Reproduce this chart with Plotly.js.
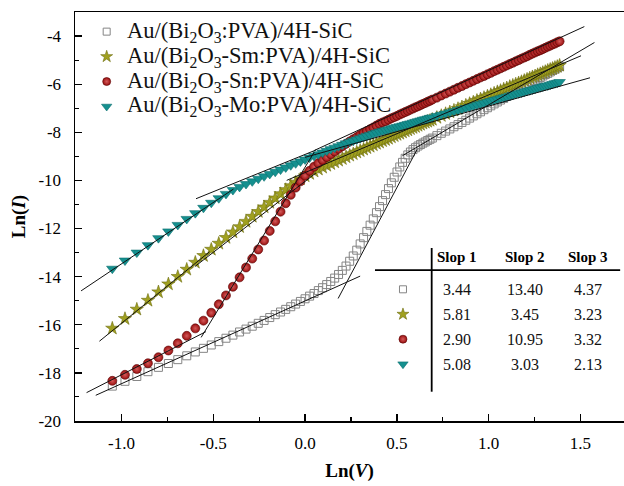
<!DOCTYPE html>
<html><head><meta charset="utf-8">
<script src="https://cdn.plot.ly/plotly-3.0.1.min.js"></script>
<style>html,body{margin:0;padding:0;background:#fff}#chart{width:624px;height:486px}</style>
</head><body><div id="chart"></div>
<script>
// ln(V) values shared by all series
const lnV = [
-1.0498,-0.9808,-0.9163,-0.8557,-0.7985,-0.7444,-0.6931,-0.6444,-0.5978,-0.5534,
-0.5108,-0.4700,-0.4308,-0.3930,-0.3567,-0.3216,-0.2877,-0.2549,-0.2231,-0.1924,
-0.1625,-0.1335,-0.1054,-0.0780,-0.0513,-0.0253,0.0000,0.0247,0.0488,0.0723,
0.0953,0.1178,0.1398,0.1613,0.1823,0.2029,0.2231,0.2429,0.2624,0.2814,
0.3001,0.3185,0.3365,0.3542,0.3716,0.3887,0.4055,0.4220,0.4383,0.4543,
0.4700,0.4855,0.5008,0.5158,0.5306,0.5452,0.5596,0.5738,0.5878,0.6016,
0.6152,0.6286,0.6419,0.6549,0.6678,0.6806,0.6931,0.7178,0.7419,0.7655,
0.7885,0.8109,0.8329,0.8544,0.8755,0.8961,0.9163,0.9361,0.9555,0.9746,
0.9933,1.0116,1.0296,1.0473,1.0647,1.0818,1.0986,1.1151,1.1314,1.1474,
1.1632,1.1787,1.1939,1.2090,1.2238,1.2384,1.2528,1.2669,1.2809,1.2947,
1.3083,1.3218,1.3350,1.3481,1.3610,1.3737,1.3863];

const lnI_PVA = [
-18.55,-18.35,-18.15,-17.95,-17.77,-17.61,-17.45,-17.29,-17.13,-16.98,
-16.84,-16.70,-16.56,-16.43,-16.30,-16.18,-16.06,-15.94,-15.82,-15.70,
-15.58,-15.47,-15.36,-15.25,-15.14,-15.03,-14.92,-14.81,-14.70,-14.58,
-14.46,-14.33,-14.20,-14.06,-13.91,-13.74,-13.56,-13.36,-13.14,-12.90,
-12.64,-12.38,-12.12,-11.86,-11.60,-11.34,-11.09,-10.84,-10.59,-10.34,
-10.10,-9.87,-9.65,-9.44,-9.25,-9.08,-8.94,-8.82,-8.72,-8.64,
-8.57,-8.51,-8.45,-8.40,-8.34,-8.29,-8.24,-8.14,-8.04,-7.95,
-7.86,-7.77,-7.68,-7.59,-7.50,-7.41,-7.32,-7.23,-7.15,-7.06,
-6.98,-6.90,-6.82,-6.74,-6.66,-6.59,-6.51,-6.44,-6.37,-6.30,
-6.23,-6.16,-6.10,-6.03,-5.97,-5.90,-5.84,-5.78,-5.72,-5.66,
-5.60,-5.55,-5.49,-5.43,-5.38,-5.32,-5.27];

const lnI_Sm = [
-16.15,-15.75,-15.36,-14.99,-14.64,-14.31,-14.00,-13.70,-13.41,-13.13,
-12.87,-12.62,-12.38,-12.15,-11.93,-11.71,-11.50,-11.30,-11.11,-10.92,
-10.74,-10.56,-10.39,-10.23,-10.08,-9.94,-9.82,-9.72,-9.62,-9.54,
-9.46,-9.38,-9.31,-9.24,-9.17,-9.10,-9.03,-8.96,-8.90,-8.83,
-8.77,-8.71,-8.65,-8.59,-8.53,-8.47,-8.42,-8.36,-8.31,-8.26,
-8.20,-8.15,-8.10,-8.05,-8.00,-7.95,-7.91,-7.86,-7.81,-7.77,
-7.72,-7.68,-7.63,-7.59,-7.55,-7.51,-7.47,-7.39,-7.31,-7.23,
-7.16,-7.09,-7.02,-6.95,-6.88,-6.81,-6.75,-6.68,-6.62,-6.56,
-6.50,-6.44,-6.38,-6.32,-6.27,-6.21,-6.16,-6.10,-6.05,-6.00,
-5.95,-5.90,-5.85,-5.80,-5.75,-5.70,-5.66,-5.61,-5.57,-5.52,
-5.48,-5.43,-5.39,-5.35,-5.31,-5.27,-5.22];

const lnI_Sn = [
-18.33,-18.08,-17.84,-17.60,-17.35,-17.07,-16.77,-16.46,-16.15,-15.83,
-15.50,-15.15,-14.78,-14.42,-14.03,-13.62,-13.25,-12.87,-12.50,-12.10,
-11.70,-11.30,-10.95,-10.60,-10.30,-10.04,-9.80,-9.60,-9.43,-9.28,
-9.15,-9.03,-8.91,-8.80,-8.69,-8.58,-8.48,-8.38,-8.29,-8.20,
-8.11,-8.03,-7.95,-7.87,-7.80,-7.72,-7.65,-7.59,-7.54,-7.48,
-7.42,-7.37,-7.32,-7.26,-7.21,-7.16,-7.11,-7.06,-7.01,-6.96,
-6.92,-6.87,-6.82,-6.78,-6.73,-6.69,-6.64,-6.56,-6.47,-6.39,
-6.31,-6.23,-6.15,-6.08,-6.00,-5.93,-5.86,-5.79,-5.72,-5.66,
-5.59,-5.53,-5.46,-5.40,-5.34,-5.28,-5.22,-5.16,-5.11,-5.05,
-5.00,-4.94,-4.89,-4.84,-4.78,-4.73,-4.68,-4.63,-4.59,-4.54,
-4.49,-4.44,-4.40,-4.35,-4.31,-4.26,-4.22];

const lnI_Mo = [
-13.67,-13.33,-13.00,-12.69,-12.40,-12.12,-11.85,-11.60,-11.36,-11.14,
-10.93,-10.74,-10.56,-10.40,-10.27,-10.15,-10.04,-9.93,-9.83,-9.73,
-9.64,-9.55,-9.46,-9.37,-9.29,-9.21,-9.13,-9.05,-8.98,-8.91,
-8.84,-8.77,-8.70,-8.64,-8.58,-8.52,-8.46,-8.40,-8.35,-8.30,
-8.25,-8.20,-8.15,-8.11,-8.06,-8.02,-7.98,-7.95,-7.91,-7.88,
-7.84,-7.81,-7.78,-7.75,-7.72,-7.69,-7.66,-7.63,-7.60,-7.57,
-7.54,-7.51,-7.48,-7.46,-7.43,-7.40,-7.38,-7.32,-7.27,-7.22,
-7.17,-7.13,-7.08,-7.04,-6.99,-6.95,-6.91,-6.86,-6.82,-6.78,
-6.74,-6.70,-6.66,-6.63,-6.59,-6.55,-6.52,-6.48,-6.45,-6.41,
-6.38,-6.35,-6.31,-6.28,-6.25,-6.22,-6.19,-6.16,-6.13,-6.10,
-6.07,-6.05,-6.02,-5.99,-5.96,-5.94,-5.91];

const seriesNames = [
  'Au/(Bi<sub>2</sub>O<sub>3</sub>:PVA)/4H-SiC',
  'Au/(Bi<sub>2</sub>O<sub>3</sub>-Sm:PVA)/4H-SiC',
  'Au/(Bi<sub>2</sub>O<sub>3</sub>-Sn:PVA)/4H-SiC',
  'Au/(Bi<sub>2</sub>O<sub>3</sub>-Mo:PVA)/4H-SiC'];
const seriesY = [lnI_PVA, lnI_Sm, lnI_Sn, lnI_Mo];

// linear fit segments (slope, intercept, x-range)
const fitSlope     = [3.44, 14.4, 4.5,   6.2, 5.9, 3.23,   3.9, 12.5, 3.5,   5.1, 3.1, 2.13];
const fitIntercept = [-15.01,-17.50,-11.36, -9.74,-10.04,-9.675, -14.18,-9.45,-8.93, -8.37,-8.92,-9.04];
const fitX0        = [-1.14, 0.18, 0.53,  -1.12,-0.60,-0.10,  -1.19,-0.566,0.05,  -1.22,-0.594,0.0];
const fitX1        = [0.30, 0.61, 1.576,  -0.52, 0.06, 1.503, -0.54, 0.05, 1.521, -0.39, 0.06, 1.552];

// table values
const tableHeaders = ['Slop 1','Slop 2','Slop 3'];
const slope1 = [3.44, 5.81, 2.90, 5.08];
const slope2 = [13.40, 3.45, 10.95, 3.03];
const slope3 = [4.37, 3.23, 3.32, 2.13];

const xTicks = [-1.0,-0.5,0.0,0.5,1.0,1.5];
const yTicks = [-20,-18,-16,-14,-12,-10,-8,-6,-4];

// styles
const symbols = ['square-open','star','circle','triangle-down'];
const colors  = ['#858585','#a0a020','#9a0f0f','#15908f'];
const lineCols= ['#858585','#6e6e10','#5a0505','#0c6e6e'];
const sizes   = [8, 10, 9, 10];
const serif = 'Liberation Serif, Times New Roman, serif';

function mk(i, shrink) {
  const m = {symbol: symbols[i], color: colors[i], size: sizes[i] - shrink,
             line: {color: lineCols[i], width: i === 0 ? 1 : 0.6}};
  if (i === 2) m.gradient = {type: 'radial', color: '#d45a5a'};
  return m;
}

const traces = seriesY.map((ys, i) => ({x: lnV, y: ys, type: 'scatter', mode: 'markers',
  name: seriesNames[i], showlegend: false, marker: mk(i, 0)}));

// fit lines in one trace
const fx = [], fy = [];
fitSlope.forEach((b, k) => {
  fx.push(fitX0[k], fitX1[k], null);
  fy.push(fitIntercept[k] + b*fitX0[k], fitIntercept[k] + b*fitX1[k], null);
});
traces.push({x: fx, y: fy, type: 'scatter', mode: 'lines', showlegend: false,
  line: {color: '#111', width: 1}, hoverinfo: 'skip'});

// legend and table positions (fraction of plot area)
const legSymX = 0.0577, legTextX = 0.0911;
const legRowY = [0.952, 0.891, 0.830, 0.769];
const colX = [0.6958, 0.8197, 0.9344];
const headerY = 0.402;
const rowY = [0.322, 0.261, 0.200, 0.139];
const symX = 0.5974;

seriesNames.forEach((n, i) => {
  traces.push({x: [legSymX], y: [legRowY[i]], xaxis: 'x2', yaxis: 'y2', type: 'scatter', mode: 'markers',
    showlegend: false, hoverinfo: 'skip', marker: mk(i, 1)});
  traces.push({x: [symX], y: [rowY[i]], xaxis: 'x2', yaxis: 'y2', type: 'scatter', mode: 'markers',
    showlegend: false, hoverinfo: 'skip', marker: mk(i, 1)});
});

const annotations = [];
seriesNames.forEach((n, i) => annotations.push({xref: 'paper', yref: 'paper', x: legTextX, y: legRowY[i],
  xanchor: 'left', yanchor: 'middle', text: n, showarrow: false, font: {family: serif, size: 22.5, color: '#111'}}));
tableHeaders.forEach((h, j) => annotations.push({xref: 'paper', yref: 'paper', x: colX[j], y: headerY,
  xanchor: 'center', yanchor: 'middle',
  text: '<b>' + h + '</b>', showarrow: false, font: {family: serif, size: 15, color: '#000'}}));
[slope1, slope2, slope3].forEach((col, j) => col.forEach((v, r) => annotations.push({
  xref: 'paper', yref: 'paper', x: colX[j], y: rowY[r], xanchor: 'center', yanchor: 'middle',
  text: v.toFixed(2), showarrow: false, font: {family: serif, size: 16, color: '#111'}})));

const shapes = [
  {type: 'line', xref: 'paper', yref: 'paper', x0: 0.5464, x1: 0.993, y0: 0.369, y1: 0.369, line: {color: '#000', width: 1.6}},
  {type: 'line', xref: 'paper', yref: 'paper', x0: 0.6497, x1: 0.6497, y0: 0.423, y1: 0.0716, line: {color: '#000', width: 1.8}}
];

const layout = {
  width: 624, height: 486,
  margin: {l: 75, r: 0, t: 12, b: 65},
  paper_bgcolor: '#fff', plot_bgcolor: '#fff',
  font: {family: serif, color: '#000'},
  showlegend: false,
  xaxis: {range: [-1.253, 1.737], tickmode: 'array', tickvals: xTicks, ticktext: xTicks.map(v => v.toFixed(1)),
          ticks: 'inside', ticklen: 7, tickwidth: 1.3, tickcolor: '#000',
          minor: {tickmode: 'array', tickvals: [-0.75,-0.25,0.25,0.75,1.25], ticks: 'inside', ticklen: 4, tickwidth: 1.1, tickcolor: '#000'},
          showline: true, linecolor: '#000', linewidth: 1.5, mirror: true, zeroline: false, showgrid: false,
          ticklabelstandoff: 6,
          tickfont: {family: serif, size: 17, color: '#000'},
          title: {text: '<b>Ln(<i>V</i>)</b>', font: {family: serif, size: 19, color: '#000'}, standoff: 12}},
  yaxis: {range: [-20, -3.0], tickmode: 'array', tickvals: yTicks, ticktext: yTicks.map(v => String(v)),
          ticks: 'inside', ticklen: 7, tickwidth: 1.3, tickcolor: '#000',
          minor: {tickmode: 'array', tickvals: [-19,-17,-15,-13,-11,-9,-7,-5], ticks: 'inside', ticklen: 4, tickwidth: 1.1, tickcolor: '#000'},
          showline: true, linecolor: '#000', linewidth: 1.5, zeroline: false, showgrid: false,
          ticklabelstandoff: 9,
          tickfont: {family: serif, size: 17, color: '#000'},
          title: {text: '<b>Ln(<i>I</i>)</b>', font: {family: serif, size: 19, color: '#000'}, standoff: 8}},
  xaxis2: {overlaying: 'x', range: [0, 1], visible: false},
  yaxis2: {overlaying: 'y', range: [0, 1], visible: false},
  annotations: annotations,
  shapes: shapes
};

Plotly.newPlot('chart', traces, layout, {displayModeBar: false, staticPlot: true});
</script>
</body></html>
